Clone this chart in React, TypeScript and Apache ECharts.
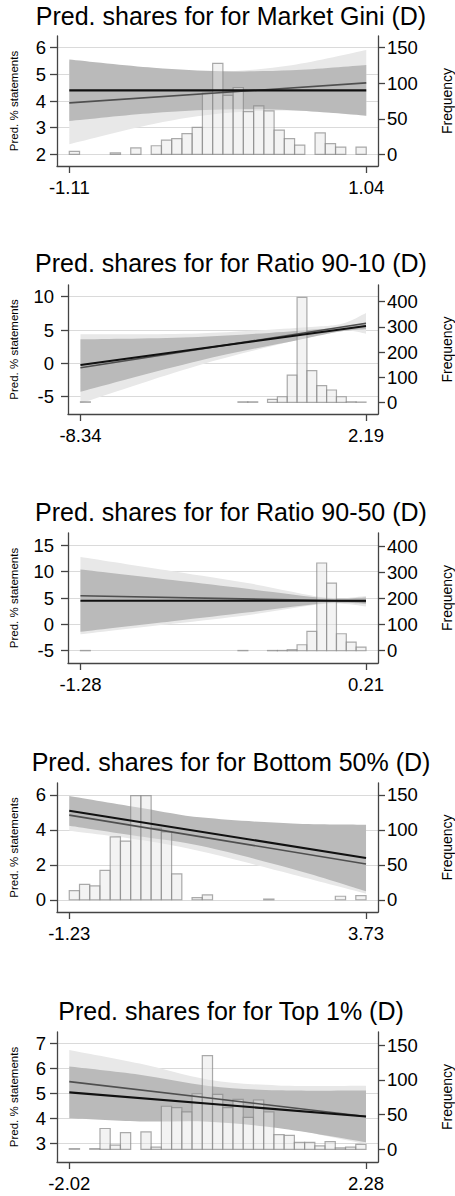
import React, { useEffect, useRef } from "react";
import * as echarts from "echarts";

const FONT = "'Liberation Sans', Arial, Helvetica, sans-serif";
const BIN_COUNT = 29;

// ---------- Panel 1: Market Gini ----------
const p1Title = "Pred. shares for for Market Gini (D)";
const p1XTicks = [-1.11, 1.04];
const p1YTicks = [2, 3, 4, 5, 6];
const p1FTicks = [0, 50, 100, 150];
const p1Freq = [4, 0, 0, 0, 2, 0, 9, 0, 12, 20, 22, 29, 38, 86, 128, 83, 94, 60, 68, 61, 34, 22, 13, 0, 30, 15, 10, 0, 10];
const p1BandX = [-1.11, -0.5, 0, 0.5, 1.04];
const p1DarkHi = [5.56, 5.25, 5.12, 5.15, 5.35];
const p1DarkLo = [3.25, 3.55, 3.68, 3.65, 3.45];
const p1LightHi = [5.48, 5.14, 5.1, 5.34, 5.91];
const p1LightLo = [2.38, 3.14, 3.54, 3.64, 3.45];
const p1Black = [4.4, 4.4];
const p1Gray = [3.93, 4.68];

// ---------- Panel 2: Ratio 90-10 ----------
const p2Title = "Pred. shares for for Ratio 90-10 (D)";
const p2XTicks = [-8.34, 2.19];
const p2YTicks = [-5, 0, 5, 10];
const p2FTicks = [0, 100, 200, 300, 400];
const p2Freq = [2, 0, 0, 0, 0, 0, 0, 0, 0, 0, 0, 0, 0, 0, 0, 0, 2, 2, 0, 12, 22, 108, 417, 126, 66, 49, 22, 2, 1];
const p2BandX = [-8.34, -4, 0, 1.3, 2.19];
const p2DarkHi = [3.6, 3.96, 4.98, 5.41, 6.1];
const p2DarkLo = [-4.25, 0.36, 3.78, 4.81, 5.1];
const p2LightHi = [4.35, 4.49, 5.42, 5.94, 7.55];
const p2LightLo = [-6.0, -0.31, 3.82, 4.94, 4.45];
const p2Black = [-0.25, 5.6];
const p2Gray = [-0.65, 6.0];

// ---------- Panel 3: Ratio 90-50 ----------
const p3Title = "Pred. shares for for Ratio 90-50 (D)";
const p3XTicks = [-1.28, 0.21];
const p3YTicks = [-5, 0, 5, 10, 15];
const p3FTicks = [0, 100, 200, 300, 400];
const p3Freq = [1, 0, 0, 0, 0, 0, 0, 0, 0, 0, 0, 0, 0, 0, 0, 0, 1, 0, 0, 1, 1, 4, 23, 74, 336, 259, 65, 33, 14];
const p3BandX = [-1.28, -0.8, -0.4, 0, 0.21];
const p3DarkHi = [10.4, 8.4, 6.7, 5.0, 5.1];
const p3DarkLo = [-1.4, 0.6, 2.3, 4.0, 3.9];
const p3LightHi = [12.8, 10.1, 7.8, 5.1, 5.4];
const p3LightLo = [-1.9, 0.1, 1.8, 3.9, 3.4];
const p3Black = [4.49, 4.49];
const p3Gray = [5.44, 4.37];

// ---------- Panel 4: Bottom 50% ----------
const p4Title = "Pred. shares for for Bottom 50% (D)";
const p4XTicks = [-1.23, 3.73];
const p4YTicks = [0, 2, 4, 6];
const p4FTicks = [0, 50, 100, 150];
const p4Freq = [13, 22, 20, 42, 90, 84, 149, 149, 102, 97, 37, 0, 3, 7, 0, 0, 0, 0, 0, 1, 0, 0, 0, 0, 0, 0, 5, 0, 6];
const p4BandX = [-1.23, 0, 1.0, 2.5, 3.73];
const p4DarkHi = [5.94, 5.24, 4.7, 4.36, 4.29];
const p4DarkLo = [4.24, 3.6, 3.06, 1.76, 0.49];
const p4LightHi = [5.79, 4.9, 4.44, 4.05, 3.85];
const p4LightLo = [3.95, 3.4, 2.74, 1.45, 0.35];
const p4Black = [5.09, 2.39];
const p4Gray = [4.84, 2.05];

// ---------- Panel 5: Top 1% ----------
const p5Title = "Pred. shares for for Top 1% (D)";
const p5XTicks = [-2.02, 2.28];
const p5YTicks = [3, 4, 5, 6, 7];
const p5FTicks = [0, 50, 100, 150];
const p5Freq = [1, 0, 1, 30, 6, 24, 0, 25, 3, 62, 60, 54, 80, 135, 79, 60, 72, 46, 71, 54, 21, 20, 10, 10, 5, 11, 2, 3, 7];
const p5BandX = [-2.02, -1, 0, 1, 2.28];
const p5DarkHi = [6.08, 5.75, 5.3, 5.12, 5.11];
const p5DarkLo = [4.0, 3.87, 3.86, 3.6, 3.03];
const p5LightHi = [6.75, 6.2, 5.55, 5.32, 5.31];
const p5LightLo = [4.19, 4.08, 4.07, 3.66, 2.95];
const p5Black = [5.04, 4.07];
const p5Gray = [5.47, 4.07];

const yName = "Pred. % statements";
const fName = "Frequency";

const panels = [
  { title: p1Title, xTicks: p1XTicks, yTicks: p1YTicks, fTicks: p1FTicks, freq: p1Freq, bandX: p1BandX, darkHi: p1DarkHi, darkLo: p1DarkLo, lightHi: p1LightHi, lightLo: p1LightLo, black: p1Black, gray: p1Gray },
  { title: p2Title, xTicks: p2XTicks, yTicks: p2YTicks, fTicks: p2FTicks, freq: p2Freq, bandX: p2BandX, darkHi: p2DarkHi, darkLo: p2DarkLo, lightHi: p2LightHi, lightLo: p2LightLo, black: p2Black, gray: p2Gray },
  { title: p3Title, xTicks: p3XTicks, yTicks: p3YTicks, fTicks: p3FTicks, freq: p3Freq, bandX: p3BandX, darkHi: p3DarkHi, darkLo: p3DarkLo, lightHi: p3LightHi, lightLo: p3LightLo, black: p3Black, gray: p3Gray },
  { title: p4Title, xTicks: p4XTicks, yTicks: p4YTicks, fTicks: p4FTicks, freq: p4Freq, bandX: p4BandX, darkHi: p4DarkHi, darkLo: p4DarkLo, lightHi: p4LightHi, lightLo: p4LightLo, black: p4Black, gray: p4Gray },
  { title: p5Title, xTicks: p5XTicks, yTicks: p5YTicks, fTicks: p5FTicks, freq: p5Freq, bandX: p5BandX, darkHi: p5DarkHi, darkLo: p5DarkLo, lightHi: p5LightHi, lightLo: p5LightLo, black: p5Black, gray: p5Gray },
];

// layout (pixels and axis extents), kept apart from the data
const layouts = [
  { left: 57, top: 36, width: 321, height: 130, xMin: -1.199, xMax: 1.125, yMin: 1.56, yMax: 6.44, fMin: -16.5, fMax: 166.5, titleY: 16, yGap: 37, yMargin: 11 },
  { left: 68, top: 285, width: 310, height: 129, xMin: -8.8, xMax: 2.633, yMin: -7.6, yMax: 11.75, fMin: -46.5, fMax: 466.4, titleY: 262.5, yGap: 48, yMargin: 14 },
  { left: 68, top: 533, width: 310, height: 130, xMin: -1.345, xMax: 0.2727, yMin: -7.34, yMax: 17.35, fMin: -47, fMax: 451, titleY: 512, yGap: 48, yMargin: 14 },
  { left: 57, top: 783, width: 321, height: 129, xMin: -1.435, xMax: 3.93, yMin: -0.7, yMax: 6.68, fMin: -17.5, fMax: 167, titleY: 761.7, yGap: 37, yMargin: 11 },
  { left: 57, top: 1032, width: 321, height: 130, xMin: -2.198, xMax: 2.454, yMin: 2.235, yMax: 7.47, fMin: -18.3, fMax: 169, titleY: 1010.8, yGap: 37, yMargin: 11 },
];

const AXIS_COLOR = "#444444";
const GRID_COLOR = "#dadada";
const LIGHT_BAND = "#e8e8e8";
const DARK_BAND = "#bababa";

// A smooth closed band: upper edge left→right, lower edge right→left (Catmull-Rom drawn as Béziers)
function curveThrough(ctx: any, pts: number[][], moveFirst: boolean) {
  if (!pts.length) return;
  if (moveFirst) ctx.moveTo(pts[0][0], pts[0][1]);
  else ctx.lineTo(pts[0][0], pts[0][1]);
  for (let i = 0; i < pts.length - 1; i++) {
    const p0 = pts[Math.max(i - 1, 0)];
    const p1 = pts[i];
    const p2 = pts[i + 1];
    const p3 = pts[Math.min(i + 2, pts.length - 1)];
    const c1x = p1[0] + (p2[0] - p0[0]) / 6;
    const c1y = p1[1] + (p2[1] - p0[1]) / 6;
    const c2x = p2[0] - (p3[0] - p1[0]) / 6;
    const c2y = p2[1] - (p3[1] - p1[1]) / 6;
    ctx.bezierCurveTo(c1x, c1y, c2x, c2y, p2[0], p2[1]);
  }
}

const BandShape = (echarts as any).graphic.extendShape({
  type: "ciband",
  shape: { upper: [] as number[][], lower: [] as number[][] },
  buildPath(ctx: any, shape: any) {
    const up = shape.upper as number[][];
    const lo = (shape.lower as number[][]).slice().reverse();
    curveThrough(ctx, up, true);
    curveThrough(ctx, lo, false);
    ctx.closePath();
  },
});
(echarts as any).graphic.registerShape("ciband", BandShape);

function bandSeries(i: number, yIdx: number, xs: number[], lo: number[], hi: number[], color: string, z: number) {
  return {
    type: "custom",
    xAxisIndex: i,
    yAxisIndex: yIdx,
    silent: true,
    clip: true,
    z,
    data: xs.map((x, k) => [x, lo[k], hi[k]]),
    encode: { x: 0, y: [1, 2] },
    renderItem: (params: any, api: any) => {
      if (params.dataIndex !== 0) return null;
      const upper = xs.map((x, k) => api.coord([x, hi[k]]));
      const lower = xs.map((x, k) => api.coord([x, lo[k]]));
      return { type: "ciband", shape: { upper, lower }, style: { fill: color, stroke: null } };
    },
  };
}

function buildOption() {
  const grid: any[] = [];
  const xAxis: any[] = [];
  const yAxis: any[] = [];
  const series: any[] = [];
  const graphic: any[] = [];

  panels.forEach((p, i) => {
    const L = layouts[i];
    grid.push({ left: L.left, top: L.top, width: L.width, height: L.height, containLabel: false, outerBoundsMode: "none" });

    const axisLine = { show: true, onZero: false, lineStyle: { color: AXIS_COLOR, width: 1.3 } };
    const tickStyle = { color: AXIS_COLOR, width: 1.3 };
    const labelBase = { color: "#000", fontSize: 18.5, fontFamily: FONT };

    xAxis.push({
      gridIndex: i,
      type: "value",
      min: L.xMin,
      max: L.xMax,
      axisLine,
      axisTick: { show: true, inside: false, length: 7, customValues: p.xTicks, lineStyle: tickStyle },
      axisLabel: { ...labelBase, margin: 12, customValues: p.xTicks, formatter: (v: number) => v.toFixed(2) },
      splitLine: { show: false },
    });

    yAxis.push({
      gridIndex: i,
      type: "value",
      position: "left",
      min: L.yMin,
      max: L.yMax,
      axisLine,
      axisTick: { show: true, length: 7, customValues: p.yTicks, lineStyle: tickStyle },
      axisLabel: { ...labelBase, margin: L.yMargin, customValues: p.yTicks },
      splitLine: { show: true, lineStyle: { color: GRID_COLOR, width: 1 } },
      name: yName,
      nameLocation: "middle",
      nameRotate: 90,
      nameGap: L.yGap,
      nameTextStyle: { color: "#000", fontSize: 11.5, fontFamily: FONT },
    });
    yAxis.push({
      gridIndex: i,
      type: "value",
      position: "right",
      min: L.fMin,
      max: L.fMax,
      axisLine,
      axisTick: { show: true, length: 7, customValues: p.fTicks, lineStyle: tickStyle },
      axisLabel: { ...labelBase, margin: 9, customValues: p.fTicks },
      splitLine: { show: false },
      name: fName,
      nameLocation: "middle",
      nameRotate: 90,
      nameGap: 62,
      nameTextStyle: { color: "#000", fontSize: 14, fontFamily: FONT },
    });

    const yIdx = i * 2;
    const fIdx = i * 2 + 1;

    // light band (CI of the gray line), then dark band (CI of the black line)
    series.push(bandSeries(i, yIdx, p.bandX, p.lightLo, p.lightHi, LIGHT_BAND, 2));
    series.push(bandSeries(i, yIdx, p.bandX, p.darkLo, p.darkHi, DARK_BAND, 3));

    // histogram
    const start = p.xTicks[0];
    const end = p.xTicks[p.xTicks.length - 1];
    const w = (end - start) / BIN_COUNT;
    const histData = p.freq
      .map((f, k) => [start + k * w, start + (k + 1) * w, f])
      .filter((d) => d[2] > 0);
    series.push({
      type: "custom", xAxisIndex: i, yAxisIndex: fIdx, silent: true, z: 4,
      data: histData,
      encode: { x: [0, 1], y: 2 },
      renderItem: (_params: any, api: any) => {
        const a = api.coord([api.value(0), 0]);
        const b = api.coord([api.value(1), api.value(2)]);
        return {
          type: "rect",
          shape: { x: a[0], y: b[1], width: b[0] - a[0], height: a[1] - b[1] },
          style: { fill: "rgba(228,228,228,0.45)", stroke: "rgba(135,135,135,0.7)", lineWidth: 1.2 },
        };
      },
    });

    // prediction lines
    const lineX = [p.xTicks[0], p.xTicks[p.xTicks.length - 1]];
    series.push({
      type: "line", xAxisIndex: i, yAxisIndex: yIdx, data: lineX.map((x, k) => [x, p.gray[k]]),
      symbol: "none", lineStyle: { color: "#4f4f4f", width: 1.6 }, silent: true, z: 5,
    });
    series.push({
      type: "line", xAxisIndex: i, yAxisIndex: yIdx, data: lineX.map((x, k) => [x, p.black[k]]),
      symbol: "none", lineStyle: { color: "#111111", width: 2.1 }, silent: true, z: 6,
    });

    graphic.push({
      type: "text",
      x: 231,
      y: L.titleY,
      style: {
        text: p.title,
        fill: "#000",
        fontSize: 25,
        fontFamily: FONT,
        align: "center",
        verticalAlign: "middle",
      },
    });
  });

  return { animation: false, backgroundColor: "#ffffff", grid, xAxis, yAxis, series, graphic };
}

export default function App() {
  const ref = useRef<HTMLDivElement>(null);
  useEffect(() => {
    if (!ref.current) return;
    const chart = echarts.init(ref.current, undefined, { renderer: "svg" });
    chart.setOption(buildOption() as any);
    return () => chart.dispose();
  }, []);
  return (
    <div
      ref={ref}
      style={{ position: "absolute", left: 0, top: 0, width: 455, height: 1196, background: "#fff" }}
    />
  );
}
